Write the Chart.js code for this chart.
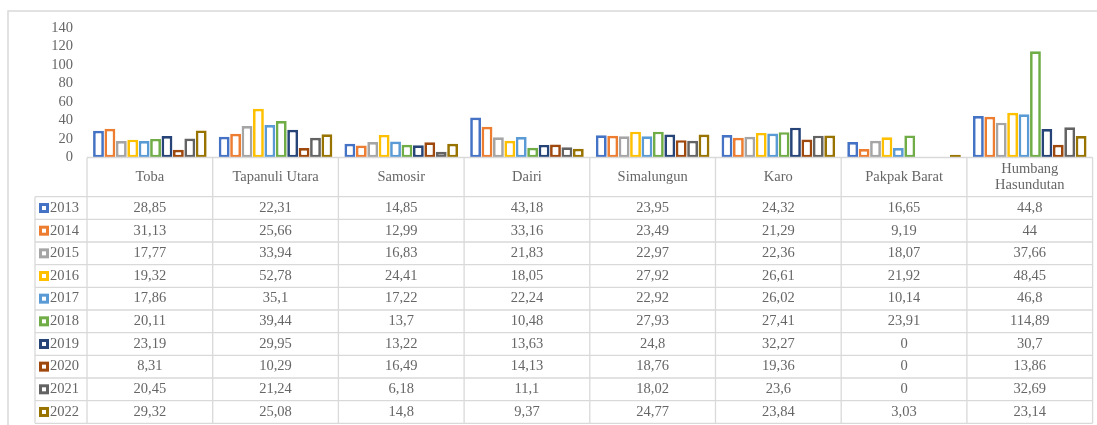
<html><head>
<meta charset="utf-8">
<title>Chart</title>
<script src="https://cdn.jsdelivr.net/npm/chart.js"></script>
<style>
body { margin: 0; background: #fff; }
</style>
</head>
<body>
<canvas id="chart" width="1097" height="425"></canvas>
<script>
var categories = ['Toba', 'Tapanuli Utara', 'Samosir', 'Dairi', 'Simalungun', 'Karo', 'Pakpak Barat', ['Humbang', 'Hasundutan']];
var years = ['2013', '2014', '2015', '2016', '2017', '2018', '2019', '2020', '2021', '2022'];
var colors = ['#4472C4', '#ED7D31', '#A5A5A5', '#FFC000', '#5B9BD5', '#70AD47', '#264478', '#9E480E', '#636363', '#997300'];

var v2013 = [28.85, 22.31, 14.85, 43.18, 23.95, 24.32, 16.65, 44.8];
var v2014 = [31.13, 25.66, 12.99, 33.16, 23.49, 21.29, 9.19, 44];
var v2015 = [17.77, 33.94, 16.83, 21.83, 22.97, 22.36, 18.07, 37.66];
var v2016 = [19.32, 52.78, 24.41, 18.05, 27.92, 26.61, 21.92, 48.45];
var v2017 = [17.86, 35.1, 17.22, 22.24, 22.92, 26.02, 10.14, 46.8];
var v2018 = [20.11, 39.44, 13.7, 10.48, 27.93, 27.41, 23.91, 114.89];
var v2019 = [23.19, 29.95, 13.22, 13.63, 24.8, 32.27, 0, 30.7];
var v2020 = [8.31, 10.29, 16.49, 14.13, 18.76, 19.36, 0, 13.86];
var v2021 = [20.45, 21.24, 6.18, 11.1, 18.02, 23.6, 0, 32.69];
var v2022 = [29.32, 25.08, 14.8, 9.37, 24.77, 23.84, 3.03, 23.14];
var series = [v2013, v2014, v2015, v2016, v2017, v2018, v2019, v2020, v2021, v2022];

var textColor = '#666666';
var lineColor = '#d9d9d9';
var font = '14.5px "Liberation Serif", "Times New Roman", serif';

// excel leaves zero bars empty
var datasets = [];
for (var i = 0; i < years.length; i++) {
    datasets.push({
        label: years[i],
        data: series[i].map(function(v) { return v === 0 ? null : v; }),
        backgroundColor: '#ffffff',
        borderColor: colors[i],
        borderWidth: 2.7,
        borderSkipped: false,
        categoryPercentage: 0.908,
        barPercentage: 0.95
    });
}

// data table under the plot, drawn on the canvas
var dataTable = {
    id: 'dataTable',
    afterDraw: function(chart) {
        var ctx = chart.ctx;
        var area = chart.chartArea;
        var x = chart.scales.x;
        var colW = (area.right - area.left) / categories.length;
        var headTop = area.bottom;
        var rowTop = headTop + 39.2;
        var rowH = 22.66;
        var legendLeft = 35;
        var bottom = rowTop + rowH * years.length;

        ctx.save();
        // outer frame
        ctx.strokeStyle = lineColor;
        ctx.lineWidth = 1.5;
        ctx.beginPath();
        ctx.moveTo(8, 425);
        ctx.lineTo(8, 11);
        ctx.lineTo(1097, 11);
        ctx.stroke();

        ctx.lineWidth = 1.3;
        ctx.beginPath();
        ctx.moveTo(area.left, headTop);
        ctx.lineTo(area.right, headTop);
        for (var c = 0; c <= categories.length; c++) {
            var lx = area.left + c * colW;
            ctx.moveTo(lx, headTop);
            ctx.lineTo(lx, bottom);
        }
        for (var r = 0; r <= years.length; r++) {
            ctx.moveTo(legendLeft, rowTop + r * rowH);
            ctx.lineTo(area.right, rowTop + r * rowH);
        }
        ctx.moveTo(legendLeft, rowTop);
        ctx.lineTo(legendLeft, bottom);
        ctx.stroke();

        ctx.fillStyle = textColor;
        ctx.font = font;
        ctx.textAlign = 'center';
        ctx.textBaseline = 'middle';
        var headMid = (headTop + rowTop) / 2;
        for (var c = 0; c < categories.length; c++) {
            var cx = x.getPixelForValue(c);
            var lab = categories[c];
            if (Array.isArray(lab)) {
                ctx.fillText(lab[0], cx, headMid - 8);
                ctx.fillText(lab[1], cx, headMid + 8);
            } else {
                ctx.fillText(lab, cx, headMid);
            }
        }

        for (var r = 0; r < years.length; r++) {
            var cy = rowTop + r * rowH + rowH / 2;
            ctx.textAlign = 'center';
            ctx.fillStyle = textColor;
            for (var c = 0; c < categories.length; c++) {
                ctx.fillText(String(series[r][c]).replace('.', ','), x.getPixelForValue(c), cy);
            }
            // legend key
            ctx.fillStyle = '#ffffff';
            ctx.fillRect(39, cy - 5, 10, 10);
            ctx.strokeStyle = colors[r];
            ctx.lineWidth = 3;
            ctx.strokeRect(40.5, cy - 3.5, 7, 7);
            ctx.fillStyle = textColor;
            ctx.textAlign = 'left';
            ctx.fillText(years[r], 50, cy);
        }
        ctx.restore();
    }
};

new Chart(document.getElementById('chart'), {
    type: 'bar',
    data: {
        labels: categories,
        datasets: datasets
    },
    options: {
        responsive: false,
        animation: false,
        layout: {
            padding: { left: 0, right: 4.4, top: 28, bottom: 267.5 }
        },
        plugins: {
            legend: { display: false },
            tooltip: { enabled: false }
        },
        scales: {
            x: {
                display: false
            },
            y: {
                min: 0,
                max: 140,
                border: { display: false },
                grid: { display: false, drawTicks: false },
                ticks: {
                    stepSize: 20,
                    autoSkip: false,
                    padding: 14,
                    color: textColor,
                    font: { family: '"Liberation Serif", "Times New Roman", serif', size: 14.5 }
                },
                afterFit: function(scale) {
                    scale.width = 87;
                }
            }
        }
    },
    plugins: [dataTable]
});
</script>
</body></html>
